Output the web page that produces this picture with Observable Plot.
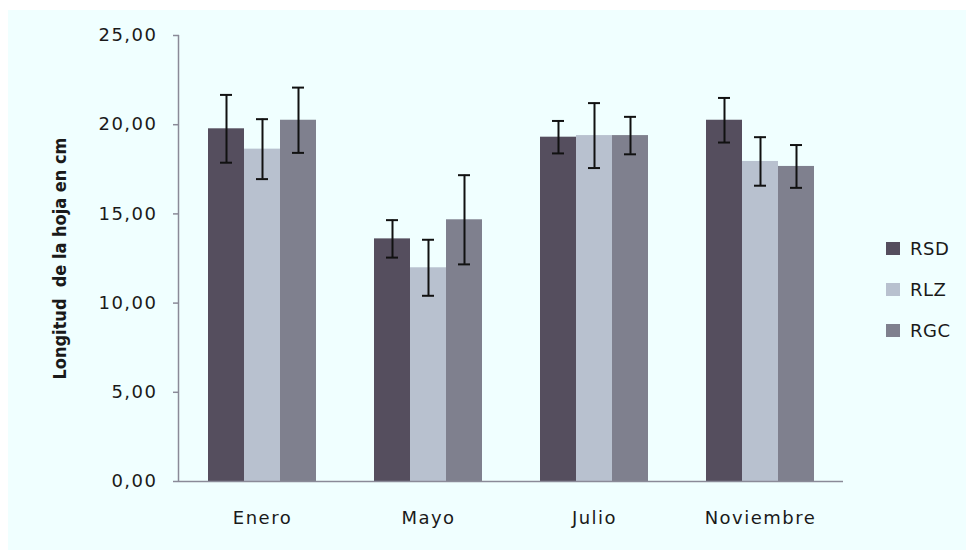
<!DOCTYPE html>
<html>
<head>
<meta charset="utf-8">
<script src="https://cdn.jsdelivr.net/npm/d3@7"></script>
<script src="https://cdn.jsdelivr.net/npm/@observablehq/plot@0.6"></script>
<style>
  html, body { margin: 0; padding: 0; background: #ffffff; }
  #wrap { position: relative; width: 966px; height: 550px; overflow: hidden; }
  #bg { position: absolute; left: 8px; top: 10px; right: 0; bottom: 0; background: #f0ffff; }
  #chart { position: absolute; left: 0; top: 0; }
  #chart svg { letter-spacing: 1.5px; }
  #chart svg g[aria-label="y-axis label"] text { letter-spacing: 0; }
  #legend { position: absolute; left: 886px; top: 228px; font-family: "DejaVu Sans", sans-serif; font-size: 18px; color: #1a1a1a; letter-spacing: 0.5px; }
  .item { display: flex; align-items: center; height: 41px; }
  .sw { width: 14px; height: 13px; margin-right: 10px; }
</style>
</head>
<body>
<div id="wrap">
  <div id="bg"></div>
  <div id="chart"></div>
  <div id="legend"></div>
</div>
<script>
const months = ["Enero", "Mayo", "Julio", "Noviembre"];
const series = ["RSD", "RLZ", "RGC"];
const colors = ["#554e5e", "#b8c1cf", "#7f808e"];
const meanRSD = [19.77, 13.60, 19.30, 20.25];
const meanRLZ = [18.63, 11.98, 19.39, 17.94];
const meanRGC = [20.25, 14.67, 19.39, 17.66];
const errRSD = [1.90, 1.05, 0.91, 1.25];
const errRLZ = [1.68, 1.57, 1.82, 1.36];
const errRGC = [1.83, 2.50, 1.05, 1.20];
const yTicks = [0, 5, 10, 15, 20, 25];
const yLabel = "Longitud  de la hoja en cm";

const means = {RSD: meanRSD, RLZ: meanRLZ, RGC: meanRGC};
const errs = {RSD: errRSD, RLZ: errRLZ, RGC: errRGC};
const data = [];
months.forEach((m, i) => series.forEach(s => data.push({month: m, series: s, mean: means[s][i], err: errs[s][i]})));

const marginLeft = 179;
const plot = Plot.plot({
  width: 966,
  height: 550,
  marginLeft,
  marginRight: 123,
  marginTop: 35,
  marginBottom: 69,
  style: {background: "transparent", fontFamily: "DejaVu Sans, sans-serif", fontSize: "18px", color: "#1a1a1a", overflow: "visible"},
  fx: {domain: months, paddingInner: 0, paddingOuter: 0, axis: "bottom", tickSize: 0, tickPadding: 30, label: null},
  x: {domain: series, paddingInner: 0, paddingOuter: 0.7636, axis: null},
  y: {domain: [0, 25], axis: null},
  color: {domain: series, range: colors},
  marks: [
    Plot.barY(data, {fx: "month", x: "series", y: "mean", fill: "series"}),
    Plot.ruleY([0], {stroke: "#8a8a98", strokeWidth: 1.5}),
    Plot.ruleX(data, {fx: "month", x: "series", y1: d => d.mean - d.err, y2: d => d.mean + d.err, stroke: "#111", strokeWidth: 2}),
    Plot.tickY(data, {fx: "month", x: "series", y: d => d.mean - d.err, stroke: "#111", strokeWidth: 2, insetLeft: 12, insetRight: 12}),
    Plot.tickY(data, {fx: "month", x: "series", y: d => d.mean + d.err, stroke: "#111", strokeWidth: 2, insetLeft: 12, insetRight: 12}),
    Plot.axisY({ticks: yTicks, tickFormat: d => d.toFixed(2).replace(".", ","), tickSize: 6, tickPadding: 16, stroke: "#8a8a98", strokeWidth: 1.5, fill: "#1a1a1a", label: null}),
    Plot.axisY({ticks: [], label: yLabel, labelAnchor: "center", labelOffset: 126, labelArrow: false, fontWeight: "bold", fontFamily: "DejaVu Sans Condensed, Liberation Sans Narrow, sans-serif", fontSize: 18, fill: "#1a1a1a"})
  ]
});
document.getElementById("chart").appendChild(plot);

// y-axis domain line from the plot's own y scale
const ys = plot.scale("y");
d3.select(plot).append("line")
  .attr("x1", marginLeft - 0.5).attr("x2", marginLeft - 0.5)
  .attr("y1", ys.apply(0)).attr("y2", ys.apply(25))
  .attr("stroke", "#8a8a98").attr("stroke-width", 1.5);

const legend = d3.select("#legend");
series.forEach((s, i) => {
  const it = legend.append("div").attr("class", "item");
  it.append("div").attr("class", "sw").style("background", colors[i]);
  it.append("span").text(s);
});
</script>
</body>
</html>
